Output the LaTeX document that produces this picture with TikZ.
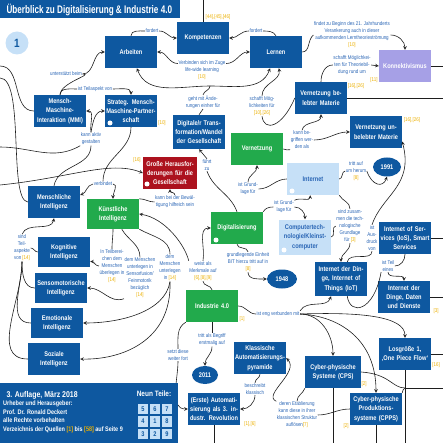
\documentclass[tikz,border=0pt]{standalone}
\usepackage{fontspec}
\setmainfont{Liberation Sans}
\newfontfamily\condsans{Liberation Sans}[FakeStretch=0.83]
\newfontfamily\titlesans{Liberation Sans}[FakeStretch=0.74]
\usetikzlibrary{shapes.geometric}

\definecolor{boxblue}{RGB}{14,88,160}
\definecolor{boxgreen}{RGB}{34,170,76}
\definecolor{boxred}{RGB}{172,18,30}
\definecolor{paleblue}{RGB}{198,224,247}
\definecolor{lilac}{RGB}{166,160,230}
\definecolor{labelblue}{RGB}{40,100,180}
\definecolor{refyellow}{RGB}{235,175,0}
\definecolor{linegrey}{RGB}{30,30,30}

\newcommand{\boxfont}{\condsans\bfseries\fontsize{6.8}{9.4}\selectfont}
\newcommand{\lblfont}{\condsans\fontsize{5.4}{7}\selectfont}
\newcommand{\titlefont}{\titlesans\bfseries\fontsize{11}{12}\selectfont}
\newcommand{\qref}[1]{{\color{refyellow}#1}}

\begin{document}
\begin{tikzpicture}[x=1pt, y=-1pt, >=stealth,
  wire/.style={draw=linegrey, line width=0.6pt},
  box/.style={fill=boxblue, text=white, font=\boxfont, align=center,
              text width=50pt, minimum width=52pt, minimum height=32pt, inner sep=1pt},
  greenbox/.style={box, fill=boxgreen},
  redbox/.style={box, fill=boxred},
  palebox/.style={box, fill=paleblue, text=labelblue},
  lilacbox/.style={box, fill=lilac},
  year/.style={ellipse, fill=boxblue, text=white, font=\boxfont,
               minimum width=28pt, minimum height=19pt, inner sep=0pt},
  lbl/.style={font=\lblfont, text=labelblue, align=center, inner sep=0.5pt},
  src/.style={font=\lblfont, text=refyellow, inner sep=0.5pt},
  dot/.style={circle, fill=white, minimum size=5pt, inner sep=0pt},
  cell/.style={fill=paleblue, text=boxblue, font=\boxfont, minimum size=10.5pt, inner sep=0pt},
]
\useasboundingbox (0,0) rectangle (443,443);

% title and page number
\fill[boxblue] (0,0) rectangle (180,18);
\node[anchor=west, font=\titlefont, text=white] (title) at (3,9.5) {Überblick zu Digitalisierung \& Industrie 4.0};
\node[circle, fill=paleblue, minimum size=23pt, inner sep=0pt, text=boxblue,
      font=\condsans\bfseries\fontsize{12}{12}\selectfont] (pagenum) at (17,43) {1};

% top row
\node[box] (arbeiten)    at (131,52) {Arbeiten};
\node[box] (kompetenzen) at (203,38) {Kompetenzen};
\node[box] (lernen)      at (276,52) {Lernen};
\node[lilacbox] (konnekt) at (405,66) {Konnektivismus};

% second row
\node[box] (mmi)     at (60,111)  {Mensch-\\Maschine-\\Interaktion (MMI)};
\node[box] (strateg) at (131,111) {Strateg. Mensch-\\Maschine-Partner-\\schaft};
\node[box, minimum height=34pt] (trans) at (199,132) {Digitale/r Trans-\\formation/Wandel\\der Gesellschaft};
\node[box] (vbelebt)   at (321,98)  {Vernetzung be-\\lebter Materie};
\node[box] (vunbelebt) at (376,132) {Vernetzung un-\\belebter Materie};

% middle
\node[redbox, minimum width=54pt] (grosse) at (170,173) {Große Herausfor-\\derungen für die\\Gesellschaft};
\node[greenbox] (vernetz) at (257,149) {Vernetzung};
\node[year] (y1991) at (387,167) {1991};
\node[palebox] (internet) at (313,179) {Internet};
\node[box] (menschl) at (54,202) {Menschliche\\Intelligenz};
\node[greenbox, minimum height=30pt] (kuenstl) at (113,214) {Künstliche\\Intelligenz};
\node[greenbox] (digital) at (237,228) {Digitalisierung};
\node[palebox, minimum height=35pt] (computer) at (305,237) {Computertech-\\nologie/Kleinst-\\computer};
\node[box] (ios) at (405,238) {Internet of Ser-\\vices (IoS), Smart\\Services};
\node[box, minimum height=34pt] (iot) at (341,279) {Internet der Din-\\ge, Internet of\\Things (IoT)};
\node[year, minimum width=30pt] (y1948) at (282,279) {1948};
\node[box] (ioddd) at (404,297) {Internet der\\Dinge, Daten\\und Dienste};
\node[greenbox] (industrie) at (212,306) {Industrie 4.0};

% intelligences
\node[box, minimum height=30pt] (kogn)  at (64,252) {Kognitive\\Intelligenz};
\node[box, minimum height=30pt] (senso) at (61,288) {Sensomotorische\\Intelligenz};
\node[box, minimum height=30pt] (emot)  at (57,323) {Emotionale\\Intelligenz};
\node[box] (sozial) at (54,359) {Soziale\\Intelligenz};

% bottom
\node[year, minimum width=26pt, minimum height=18pt] (y2011) at (205,375) {2011};
\node[box] (erste) at (214,409) {(Erste) Automati-\\sierung als 3. in-\\dustr. Revolution};
\node[box] (klass) at (260,358) {Klassische\\Automatisierungs-\\pyramide};
\node[box, minimum width=56pt] (cps) at (333,372) {Cyber-physische\\Systeme (CPS)};
\node[box] (losgr) at (405,354) {Losgröße 1,\\‚One Piece Flow‘};
\node[box] (cpps) at (376,409) {Cyber-physische\\Produktions-\\systeme (CPPS)};

% white marks
\node[dot] (strategdot)  at (110,123) {};
\node[dot] (grossedot)   at (147,184) {};
\node[dot] (internetdot) at (292,191) {};
\node[dot] (computerdot) at (284,250) {};
\node[dot] (digitaldot)  at (216,240) {};

% labels
\node[lbl] (lfordert1) at (152,31) {fordert};
\node[lbl] (lfordert2) at (256,31) {fordert};
\node[src] (srckomp) at (218,17) {[44],[45],[46]};
\node[lbl] (lverbinden) at (202,70) {Verbinden sich im Zuge\\life-wide learning\\\qref{[10]}};
\node[lbl] (lunterst) at (66,74) {unterstützt beim};
\node[lbl] (lteilasp) at (95,89) {ist Teilaspekt von};
\node[lbl] (laktiv) at (91,139) {kann aktiv\\gestalten};
\node[lbl] (lgeht) at (203,102) {geht mit Ände-\\rungen einher für};
\node[src] (srcstrateg) at (162,123) {[10]};
\node[lbl] (lschafft) at (262,106) {schafft Mög-\\lichkeiten für\\\qref{[10],[26]}};
\node[lbl] (lfindet) at (352,35) {findet zu Beginn des 21. Jahrhunderts\\Verankerung auch in dieser\\aufkommenden Lerntheorieströmung\\\qref{[10]}};
\node[lbl] (lschafft2) at (352,65) {schafft Möglichkei-\\ten für Theoriebil-\\dung rund um};
\node[src] (srckonn) at (374,80) {[11]};
\node[src] (srcvbel) at (356,86) {[16],[26]};
\node[lbl] (lbegriffen) at (302,140) {kann be-\\griffen wer-\\den als};
\node[src] (srcvunbel) at (412,120) {[16],[26]};
\node[lbl] (lgrund1) at (248,189) {ist Grund-\\lage für};
\node[lbl] (lgrund2) at (284,207) {ist Grund-\\lage für};
\node[lbl] (lfuehrt) at (207,165) {führt\\zu};
\node[lbl] (ltritt) at (356,171) {tritt auf\\um herum\\\qref{[8]}};
\node[lbl] (lverbindet) at (103,184) {verbindet};
\node[src] (srcgrosse) at (137,160) {[16]};
\node[lbl] (lbewaelt) at (175,202) {kann bei der Bewäl-\\tigung hilfreich sein};
\node[lbl] (lteilaspekte) at (22,248) {sind\\Teil-\\aspekte\\von \qref{[14]}};
\node[lbl] (lueberl) at (112,266) {In Teilberei-\\chen dem\\Menschen\\überlegen in\\\qref{[14]}};
\node[lbl] (lunterl) at (140,278) {dem Menschen\\unterlegen in\\Sensorfusion/\\Feinmotorik\\bezüglich\\\qref{[14]}};
\node[lbl] (lunterl2) at (170,268) {dem\\Menschen\\unterlegen\\in \qref{[14]}};
\node[lbl] (lmerkmale) at (203,271) {weist als\\Merkmale auf\\\qref{[6],[8],[9]}};
\node[lbl] (lbit) at (248,262) {grundlegende Einheit\\BIT hierzu tritt auf in\\\qref{[8]}};
\node[lbl] (lzusammen) at (350,226) {sind zusam-\\men die tech-\\nologische\\Grundlage\\für \qref{[3]}};
\node[lbl] (lausdruck) at (372,238) {ist\\Aus-\\druck\\von};
\node[lbl] (lteil) at (388,266) {ist Teil\\eines};
\node[src] (srcioddd) at (436,311) {[3]};
\node[lbl] (leng) at (278,314) {ist eng verbunden mit};
\node[src] (srcind) at (242,319) {[1]};
\node[lbl] (lbegriff) at (212,340) {tritt als Begriff\\erstmalig auf};
\node[lbl] (lsetzt) at (178,355) {setzt diese\\weiter fort};
\node[lbl] (lbeschreibt) at (255,389) {beschreibt\\klassisch};
\node[lbl] (letabl) at (297,415) {deren Etablierung\\kann diese in ihrer\\klassischen Struktur\\auflösen\qref{[7]}};
\node[src] (srcerste) at (250,424) {[1],[6]};
\node[src] (srccps) at (364,384) {[2]};
\node[src] (srccpps) at (346,426) {[2]};
\node[src] (srclosgr) at (436,365) {[16]};

% free ends at the page edges
\coordinate (topexit) at (203,0);
\coordinate (konnright) at (443,66);
\coordinate (vbelebtright) at (443,98);
\coordinate (iosright) at (443,238);
\coordinate (iodddright) at (443,297);
\coordinate (losgrright) at (443,354);
\coordinate (cpsbend) at (405,388);
\coordinate (cpsright) at (443,388);
\coordinate (ersteexit) at (214,443);
\coordinate (cpsexit) at (333,443);
\coordinate (cppsexit) at (376,443);
\coordinate (losgrexit) at (405,443);
\coordinate (leftA) at (0,66);
\coordinate (leftB) at (0,78);
\coordinate (leftC) at (0,147);
\coordinate (leftD) at (0,185);
\coordinate (gehtjoin) at (210,86);

% top row links
\draw[wire] (arbeiten.north) to[out=90,in=180] (lfordert1.west);
\draw[wire,->] (lfordert1.east) to[out=0,in=180] (kompetenzen.west);
\draw[wire] (lernen.north) to[out=120,in=0] (lfordert2.east);
\draw[wire,->] (lfordert2.west) to[out=180,in=0] (kompetenzen.east);
\draw[wire] (kompetenzen.north) -- (topexit);
\draw[wire,->] (lverbinden.165) to[out=180,in=0] (arbeiten.east);
\draw[wire,->] (lverbinden.15) to[out=0,in=180] (lernen.west);
\draw[wire] (trans.north) -- (lgeht.south);
\draw[wire] (lgeht.north) to[out=80,in=270] (gehtjoin);
\draw[wire,->] (gehtjoin) to[out=180,in=-70] (arbeiten.-70);
\draw[wire,->] (gehtjoin) to[out=0,in=-110] (lernen.-110);
\draw[wire] (vbelebt.west) .. controls (282,128) and (264,132) .. (lschafft.south);
\draw[wire,->] (lschafft.north) to[out=90,in=-80] (lernen.-80);
\draw[wire] (lernen.east) to[out=0,in=220] (lfindet.west);
\draw[wire,->] (lfindet.east) to[out=0,in=90] (konnekt.north);
\draw[wire] (vbelebt.north) to[out=90,in=180] (lschafft2.west);
\draw[wire,->] (lschafft2.east) -- (konnekt.west);
\draw[wire] (konnekt.east) -- (konnright);
\draw[wire] (vbelebt.east) -- (vbelebtright);

% Mensch-Maschine
\draw[wire] (leftA) to[out=0,in=180] (mmi.west);
\draw[wire] (leftB) .. controls (25,78) and (8,200) .. (menschl.west);
\draw[wire] (leftC) to[out=0,in=210] (laktiv.south west);
\draw[wire] (mmi.north) to[out=90,in=0] (lunterst.east);
\draw[wire,->] (lunterst.east) to[out=0,in=180] (arbeiten.west);
\draw[wire] (mmi.north) to[out=90,in=180] (lteilasp.west);
\draw[wire,->] (lteilasp.east) to[out=0,in=90] (strateg.north);
\draw[wire] (menschl.north) to[out=80,in=-90] (laktiv.south);
\draw[wire,->] (laktiv.north) to[out=100,in=0] (mmi.east);
\draw[wire,->] (laktiv.north) to[out=80,in=180] (strateg.west);
\draw[wire] (strateg.south) to[out=-90,in=90] (lverbindet.north);
\draw[wire,->] (lverbindet.west) to[out=190,in=20] (menschl.15);
\draw[wire,->] (lverbindet.east) to[out=0,in=90] (kuenstl.north);

% Vernetzung, Internet
\draw[wire] (vernetz.east) to[out=0,in=210] (lbegriffen.south west);
\draw[wire,->] (lbegriffen.north) to[out=80,in=-90] (vbelebt.south);
\draw[wire,->] (lbegriffen.east) to[out=0,in=180] (vunbelebt.west);
\draw[wire] (internet.west) to[out=180,in=0] (lgrund1.east);
\draw[wire,->] (lgrund1.north) to[out=90,in=-90] (vernetz.south);
\draw[wire] (digital.north east) to[out=60,in=180] (lgrund2.west);
\draw[wire,->] (lgrund2.north east) to[out=30,in=-90] (internet.-100);
\draw[wire,->] (lgrund2.east) to[out=0,in=90] (computer.north);
\draw[wire] (digital.north) to[out=110,in=-70] (lfuehrt.south);
\draw[wire,->] (lfuehrt.north) -- (trans.south);
\draw[wire] (internet.east) to[out=0,in=180] (ltritt.west);
\draw[wire,->] (ltritt.east) .. controls (372,186) and (383,188) .. (y1991.south);
\draw[wire] (internet.south east) to[out=-60,in=90] (lzusammen.north);
\draw[wire] (computer.east) to[out=0,in=180] (lzusammen.west);
\draw[wire,->] (lzusammen.south) to[out=-90,in=90] (iot.north);
\draw[wire] (iot.70) to[out=80,in=-90] (lausdruck.south);
\draw[wire,->] (lausdruck.north) .. controls (382,195) and (414,186) .. (vunbelebt.-20);
\draw[wire] (ios.south) to[out=-90,in=0] (lteil.east);
\draw[wire,->] (lteil.south) to[out=-90,in=90] (ioddd.north);
\draw[wire] (iot.-70) .. controls (350,316) and (374,312) .. (lteil.south west);
\draw[wire] (ios.east) -- (iosright);
\draw[wire] (ioddd.east) -- (iodddright);

% Grosse Herausforderungen, KI
\draw[wire,->] (leftD) .. controls (70,178) and (110,160) .. (grosse.west);
\draw[wire] (kuenstl.north east) to[out=0,in=180] (lbewaelt.west);
\draw[wire,->] (lbewaelt.north) to[out=90,in=-90] (grosse.south);
\draw[wire] (industrie.north) to[out=100,in=-90] (lmerkmale.south);
\draw[wire,->] (lmerkmale.north west) .. controls (185,245) and (165,218) .. (kuenstl.east);
\draw[wire,->] (lmerkmale.north) to[out=80,in=180] (digital.west);
\draw[wire] (digital.south) to[out=-90,in=90] (lbit.north);
\draw[wire,->] (lbit.south) to[out=-90,in=180] (y1948.west);
\draw[wire] (kuenstl.south) to[out=-90,in=90] (lueberl.north);
\draw[wire,->] (lueberl.west) to[out=180,in=0] (kogn.-20);
\draw[wire] (kuenstl.-60) to[out=-60,in=90] (lunterl.north);
\draw[wire,->] (lunterl.south west) to[out=200,in=0] (senso.east);
\draw[wire] (kuenstl.-30) to[out=-30,in=90] (lunterl2.north);
\draw[wire,->] (lunterl2.south) .. controls (165,312) and (120,323) .. (emot.east);
\draw[wire,->] (lunterl2.south) .. controls (172,342) and (120,360) .. (sozial.east);
\draw[wire,->] (lteilaspekte.north) to[out=70,in=-100] (menschl.south);
\draw[wire] (kogn.west) to[out=180,in=0] (lteilaspekte.east);
\draw[wire] (lteilaspekte.south) to[out=-90,in=180] (senso.west);
\draw[wire] (lteilaspekte.south) to[out=-90,in=180] (emot.west);
\draw[wire] (lteilaspekte.south) to[out=-90,in=180] (sozial.west);

% Industrie 4.0
\draw[wire] (industrie.south) -- (lbegriff.north);
\draw[wire,->] (lbegriff.south) to[out=-90,in=90] (y2011.north);
\draw[wire] (industrie.south west) to[out=210,in=90] (lsetzt.north);
\draw[wire,->] (lsetzt.south) to[out=-90,in=180] (erste.west);
\draw[wire] (industrie.east) to[out=0,in=180] (leng.west);
\draw[wire,->] (leng.east) to[out=0,in=90] (cps.north);
\draw[wire,->] (leng.east) .. controls (360,312) and (405,316) .. (losgr.north);
\draw[wire,->] (leng.east) .. controls (340,316) and (376,340) .. (cpps.north);
\draw[wire,->] (leng.north east) to[out=60,in=-110] (iot.-120);
\draw[wire] (klass.south) to[out=-90,in=90] (lbeschreibt.north);
\draw[wire,->] (lbeschreibt.south) to[out=-90,in=0] (erste.east);
\draw[wire] (cps.-150) to[out=250,in=90] (letabl.north);
\draw[wire] (cpps.west) to[out=180,in=0] (letabl.east);
\draw[wire,->] (letabl.north west) .. controls (262,395) and (300,372) .. (klass.east);
\draw[wire] (cps.east) .. controls (390,374) and (392,388) .. (cpsbend);
\draw[wire] (cpsbend) -- (cpsright);
\draw[wire] (cpps.north east) to[out=60,in=180] (cpsbend);
\draw[wire] (losgr.east) -- (losgrright);
\draw[wire] (erste.south) -- (ersteexit);
\draw[wire] (cps.south) -- (cpsexit);
\draw[wire] (cpps.south) -- (cppsexit);
\draw[wire] (losgr.south) -- (losgrexit);

% edition box
\fill[boxblue] (0,383) rectangle (178,443);
\node[anchor=west, text=white, font=\condsans\bfseries\fontsize{8.4}{9}\selectfont] (auflage) at (3,395) {3. Auflage, März 2018};
\node[anchor=north west, text=white, align=left, inner sep=0pt,
      font=\condsans\bfseries\fontsize{6.6}{8.4}\selectfont] (urheber) at (3,401)
  {Urheber und Herausgeber:\\Prof. Dr. Ronald Deckert\\alle Rechte vorbehalten\\Verzeichnis der Quellen \qref{[1]} bis \qref{[58]} auf Seite 9};
\node[text=white, font=\condsans\bfseries\fontsize{7.8}{9}\selectfont] (neun) at (154,394) {Neun Teile:};
\foreach \num/\col/\row in {5/0/0, 6/1/0, 7/2/0, 4/0/1, 1/1/1, 8/2/1, 3/0/2, 2/1/2, 9/2/2}
  \node[cell] (cell\num) at (143+12*\col, 409+12.5*\row) {\num};
\end{tikzpicture}
\end{document}
